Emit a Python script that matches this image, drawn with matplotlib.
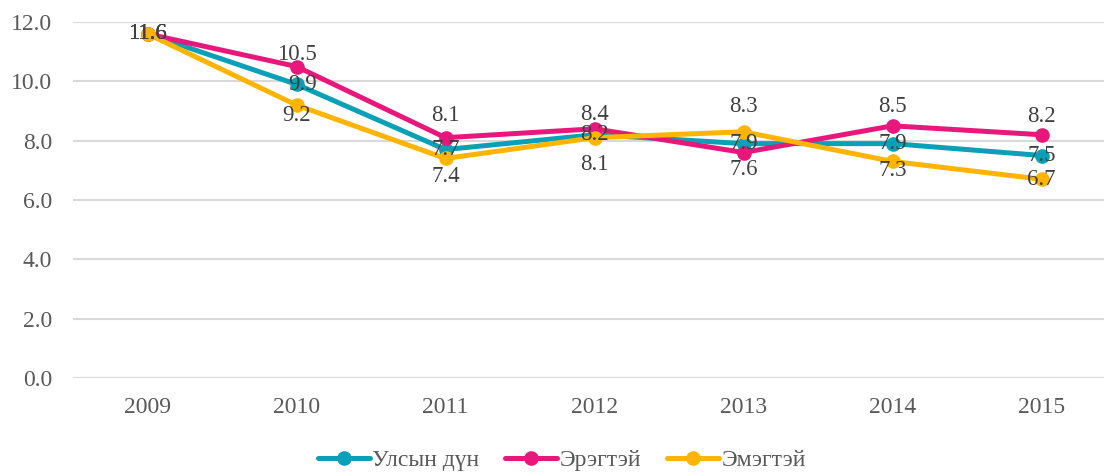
import matplotlib.pyplot as plt

plt.rcParams['font.family'] = ['Liberation Serif', 'DejaVu Serif']

# Data
years = ['2009', '2010', '2011', '2012', '2013', '2014', '2015']
total = [11.6, 9.9, 7.7, 8.2, 7.9, 7.9, 7.5]
male = [11.6, 10.5, 8.1, 8.4, 7.6, 8.5, 8.2]
female = [11.6, 9.2, 7.4, 8.1, 8.3, 7.3, 6.7]
series_names = ['Улсын дүн', 'Эрэгтэй', 'Эмэгтэй']

colors = ['#0AA0B8', '#E8177C', '#FFB500']

# label offsets in pixels (dx, dy) per point
label_offsets = [
    [(0, 0), (6, 0), (0, 0), (0, 0), (0, 0), (0, 0), (0, 0)],
    [(0, 0), (0, 12), (0, 22), (0, 14), (0, -17), (0, 19), (0, 18)],
    [(0, 0), (0, -10), (0, -18), (0, -27), (0, 25), (0, -9), (0, 0)],
]

fig = plt.figure(figsize=(11.04, 4.73), dpi=100)
ax = fig.add_axes([73 / 1104, 95 / 473, 1043 / 1104, 356 / 473])

x = list(range(len(years)))
all_series = [total, male, female]
for vals, name, col in zip(all_series, series_names, colors):
    ax.plot(x, vals, color=col, lw=3.6, marker='o', ms=9.5, label=name,
            solid_capstyle='round', zorder=3)

for vals, offs in zip(all_series, label_offsets):
    for xi, v, (dx, dy) in zip(x, vals, offs):
        ax.annotate(f'{v:.1f}', (xi, v), xytext=(dx, dy), textcoords='offset pixels',
                    ha='center', va='center', fontsize=16.5, color='#404040', zorder=5)

ax.set_xlim(-0.5, len(years) - 0.5)
ax.set_ylim(0, 12)
ax.set_yticks([0, 2, 4, 6, 8, 10, 12])
ax.set_yticklabels([f'{t:.1f}' for t in [0, 2, 4, 6, 8, 10, 12]])
ax.set_xticks(x)
ax.set_xticklabels(years)
ax.tick_params(axis='both', length=0, labelsize=17, labelcolor='#595959')
ax.tick_params(axis='y', pad=15)
ax.tick_params(axis='x', pad=14)
ax.grid(axis='y', color='#D9D9D9', lw=1.5, zorder=0)
for s in ax.spines.values():
    s.set_visible(False)

fig.legend(loc='center', bbox_to_anchor=(562 / 1104, 1 - 460 / 473), ncol=3, frameon=False,
           fontsize=17, labelcolor='#595959', handlelength=2.2, columnspacing=1.1,
           handletextpad=0.1)

fig.savefig('out.png', dpi=100)
